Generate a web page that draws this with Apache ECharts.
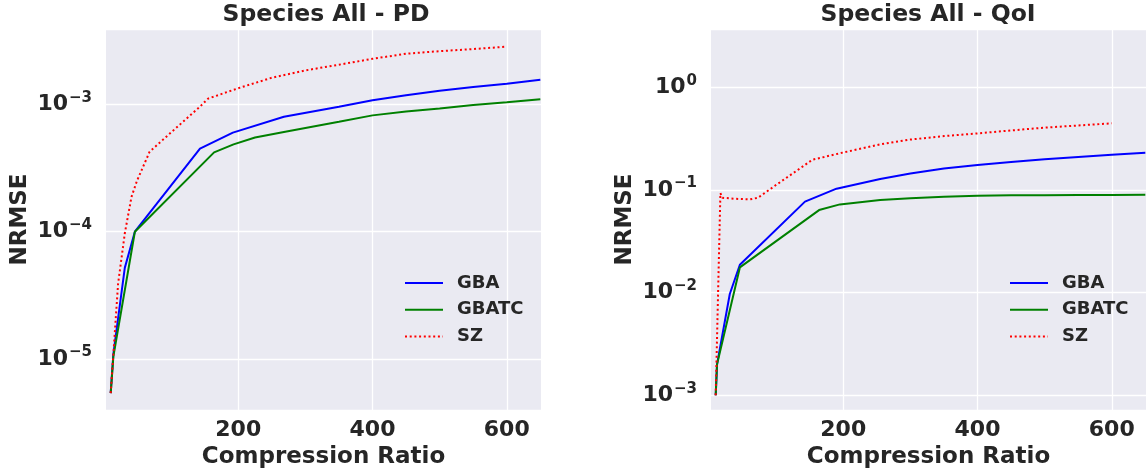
<!DOCTYPE html>
<html>
<head>
<meta charset="utf-8">
<script src="https://cdn.jsdelivr.net/npm/echarts@6/dist/echarts.min.js"></script>
<style>
  html, body { margin: 0; padding: 0; background: #fff; }
  #chart { width: 1146px; height: 475px; }
</style>
</head>
<body>
<div id="chart"></div>
<script>
// compression ratio ticks
var xTicks = [200, 400, 600];
var legendNames = ['GBA', 'GBATC', 'SZ'];

// Species All - PD
var pdGbaX = [10, 14, 31, 46, 143, 192, 268, 350, 400, 450, 500, 550, 600, 650];
var pdGbaY = [5.4e-6, 1.1e-5, 5.2e-5, 1.0e-4, 4.5e-4, 6.0e-4, 8.0e-4, 9.6e-4, 1.08e-3, 1.18e-3, 1.28e-3, 1.37e-3, 1.45e-3, 1.56e-3];
var pdGbatcX = [10, 14, 46, 164, 193, 225, 270, 350, 400, 450, 500, 550, 600, 650];
var pdGbatcY = [5.4e-6, 1.05e-5, 1.0e-4, 4.2e-4, 4.85e-4, 5.5e-4, 6.1e-4, 7.3e-4, 8.2e-4, 8.8e-4, 9.3e-4, 9.9e-4, 1.04e-3, 1.1e-3];
var pdSzX = [10, 14, 21, 31, 41, 49, 68, 98, 143, 155, 200, 250, 300, 350, 400, 450, 500, 550, 600];
var pdSzY = [5.4e-6, 1.1e-5, 3.9e-5, 9.7e-5, 1.88e-4, 2.5e-4, 4.25e-4, 5.9e-4, 9.6e-4, 1.11e-3, 1.34e-3, 1.62e-3, 1.85e-3, 2.05e-3, 2.28e-3, 2.5e-3, 2.62e-3, 2.72e-3, 2.84e-3];

// Species All - QoI
var qoiGbaX = [10, 12, 31, 46, 143, 190, 255, 300, 350, 400, 450, 500, 550, 600, 650];
var qoiGbaY = [1.0e-3, 2.0e-3, 9.7e-3, 1.87e-2, 7.7e-2, 0.103, 0.128, 0.145, 0.162, 0.175, 0.187, 0.199, 0.21, 0.221, 0.231];
var qoiGbatcX = [10, 12, 46, 164, 195, 255, 300, 350, 400, 450, 500, 550, 600, 650];
var qoiGbatcY = [1.0e-3, 2.0e-3, 1.76e-2, 0.0637, 0.0724, 0.0798, 0.083, 0.086, 0.088, 0.0887, 0.0891, 0.0894, 0.0896, 0.0897];
var qoiSzX = [10, 17, 20, 40, 61, 73, 100, 130, 154, 195, 255, 300, 350, 400, 450, 500, 550, 600];
var qoiSzY = [1.0e-3, 0.093, 0.084, 0.082, 0.081, 0.084, 0.112, 0.153, 0.197, 0.228, 0.278, 0.31, 0.335, 0.356, 0.38, 0.405, 0.425, 0.446];

var font = 'DejaVu Sans';
var ink = '#262626';

function pairs(xs, ys) {
    return xs.map(function (x, i) { return [x, ys[i]]; });
}

function powLabel(v) {
    var e = Math.round(Math.log10(v));
    var s = e < 0 ? '\u2212' + (-e) : String(e);
    return '{b|10}{s|' + s + '}';
}

function makeX(idx) {
    return {
        gridIndex: idx, type: 'value', min: 3, max: 651,
        name: 'Compression Ratio', nameLocation: 'middle', nameGap: 36,
        nameTextStyle: { fontFamily: font, fontWeight: 'bold', fontSize: 23, color: ink },
        axisLine: { show: false }, axisTick: { show: false, customValues: xTicks },
        axisLabel: { customValues: xTicks, margin: 9, fontFamily: font, fontWeight: 'bold', fontSize: 22, color: ink },
        splitLine: { show: true, lineStyle: { color: '#ffffff', width: 1.3 } }
    };
}

function makeY(idx, min, max) {
    return {
        gridIndex: idx, type: 'log', logBase: 10, min: min, max: max,
        name: 'NRMSE', nameLocation: 'middle', nameGap: 74,
        nameTextStyle: { fontFamily: font, fontWeight: 'bold', fontSize: 23, color: ink },
        axisLine: { show: false }, axisTick: { show: false },
        axisLabel: {
            margin: 14, showMinLabel: false, showMaxLabel: false,
            formatter: powLabel, color: ink,
            rich: {
                b: { fontFamily: font, fontWeight: 'bold', fontSize: 22, color: ink },
                s: { fontFamily: font, fontWeight: 'bold', fontSize: 15, color: ink, padding: [0, 0, 13, 1] }
            }
        },
        splitLine: { show: true, lineStyle: { color: '#ffffff', width: 1.3 } }
    };
}

function makeLine(name, idx, xs, ys, color, dotted) {
    return {
        name: name, type: 'line', xAxisIndex: idx, yAxisIndex: idx,
        data: pairs(xs, ys), symbol: 'none', smooth: false,
        lineStyle: { color: color, width: 2, type: dotted ? [2, 2.7] : 'solid' },
        itemStyle: { color: color }
    };
}

function makeLegend(left) {
    return {
        data: legendNames, orient: 'vertical', left: left, top: 274, padding: 0,
        itemWidth: 38, itemHeight: 14, itemGap: 8.7,
        itemStyle: { opacity: 0, borderWidth: 0 },
        textStyle: { fontFamily: font, fontWeight: 'bold', fontSize: 18, lineHeight: 18, color: ink, padding: [0, 0, 0, 9] }
    };
}

var chart = echarts.init(document.getElementById('chart'));

var option = {
    animation: false,
    backgroundColor: '#ffffff',
    title: [
        { text: 'Species All - PD', left: 326, top: 3, textAlign: 'center', padding: 0,
          textStyle: { fontFamily: font, fontWeight: 'bold', fontSize: 23.5, color: ink } },
        { text: 'Species All - QoI', left: 928, top: 3, textAlign: 'center', padding: 0,
          textStyle: { fontFamily: font, fontWeight: 'bold', fontSize: 23.5, color: ink } }
    ],
    legend: [makeLegend(404), makeLegend(1009)],
    grid: [
        { left: 106, top: 29, width: 435, height: 381, show: true, backgroundColor: '#eaeaf2', borderWidth: 0, outerBoundsMode: 'none' },
        { left: 711, top: 29, width: 435, height: 381, show: true, backgroundColor: '#eaeaf2', borderWidth: 0, outerBoundsMode: 'none' }
    ],
    xAxis: [makeX(0), makeX(1)],
    yAxis: [makeY(0, 3.98e-6, 3.91e-3), makeY(1, 7.19e-4, 3.70)],
    series: [
        makeLine('GBA', 0, pdGbaX, pdGbaY, '#0000ff', false),
        makeLine('GBATC', 0, pdGbatcX, pdGbatcY, '#008000', false),
        makeLine('SZ', 0, pdSzX, pdSzY, '#ff0000', true),
        makeLine('GBA', 1, qoiGbaX, qoiGbaY, '#0000ff', false),
        makeLine('GBATC', 1, qoiGbatcX, qoiGbatcY, '#008000', false),
        makeLine('SZ', 1, qoiSzX, qoiSzY, '#ff0000', true)
    ]
};

chart.setOption(option);
</script>
</body>
</html>
